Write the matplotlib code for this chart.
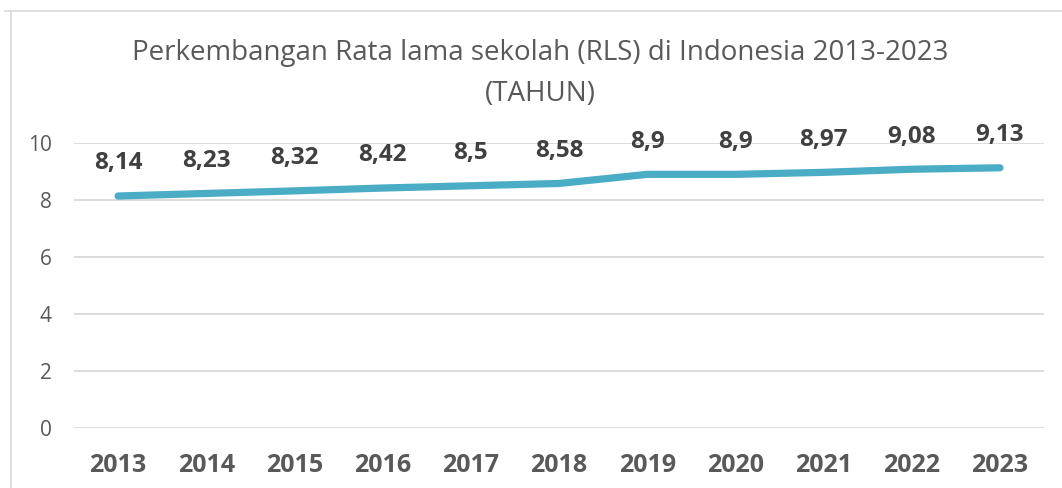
import matplotlib
matplotlib.use("Agg")
import matplotlib.pyplot as plt
from matplotlib.lines import Line2D

years = ["2013", "2014", "2015", "2016", "2017", "2018", "2019", "2020", "2021", "2022", "2023"]
rls = [8.14, 8.23, 8.32, 8.42, 8.5, 8.58, 8.9, 8.9, 8.97, 9.08, 9.13]
labels = ["8,14", "8,23", "8,32", "8,42", "8,5", "8,58", "8,9", "8,9", "8,97", "9,08", "9,13"]
yticks = [0, 2, 4, 6, 8, 10]

plt.rcParams['font.family'] = ['Open Sans', 'DejaVu Sans']

W, H = 1062, 488
fig = plt.figure(figsize=(W / 100, H / 100), dpi=100)
ax = fig.add_axes([74 / W, 60 / H, (1044 - 74) / W, (428 - 143) / H])

x = list(range(len(years)))
ax.plot(x, rls, color="#4BACC6", lw=5.2, solid_capstyle="round", zorder=3)
for xi, v, lab in zip(x, rls, labels):
    ax.annotate(lab, (xi, v), xytext=(0, 23.5), textcoords="offset points",
                ha="center", va="center", fontsize=17.5, fontweight="bold", color="#404040")

ax.set_xlim(-0.5, len(years) - 0.5)
ax.set_ylim(0, 10)
ax.set_yticks(yticks)
ax.set_yticklabels([str(t) for t in yticks], fontsize=15, color="#595959")
ax.set_xticks(x)
ax.set_xticklabels(years, fontsize=18, fontweight="bold", color="#595959")
ax.tick_params(axis="both", length=0)
ax.tick_params(axis="y", pad=16)
ax.tick_params(axis="x", pad=18)
ax.grid(axis="y", color="#D9D9D9", lw=1.3, zorder=0)
for s in ax.spines.values():
    s.set_visible(False)

tx = 540 / W
fig.text(tx, 1 - 53 / H, "Perkembangan Rata lama sekolah (RLS) di Indonesia 2013-2023",
         ha="center", va="center", fontsize=20, color="#595959")
fig.text(tx, 1 - 94 / H, "(TAHUN)", ha="center", va="center", fontsize=20, color="#595959")

# chart border
fig.add_artist(Line2D([5 / W, 1.0], [1 - 11 / H, 1 - 11 / H], color="#D9D9D9", lw=1.2, transform=fig.transFigure))
fig.add_artist(Line2D([11 / W, 11 / W], [0, 1 - 11 / H], color="#D9D9D9", lw=1.2, transform=fig.transFigure))

fig.savefig("out.png", dpi=100)
